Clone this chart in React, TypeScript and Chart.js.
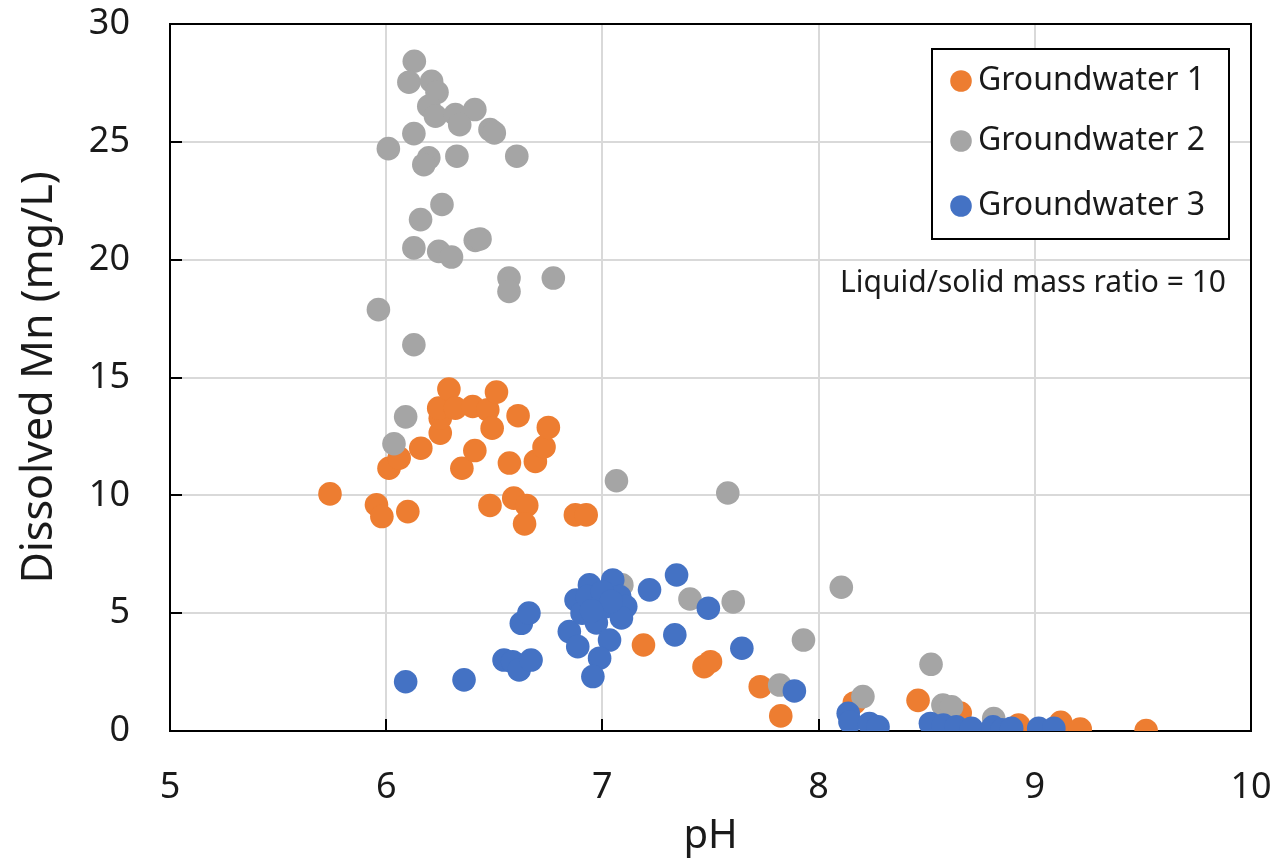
import React, { useEffect, useRef } from 'react';
import { Chart, registerables } from 'chart.js';

Chart.register(...registerables);

// ---------- data ----------
const gw1pH = [5.74, 5.955, 5.98, 6.10, 6.013, 6.06, 6.16, 6.25, 6.25, 6.243, 6.29, 6.32, 6.40, 6.47, 6.51, 6.49, 6.35, 6.41, 6.48, 6.57, 6.61, 6.59, 6.65, 6.64, 6.69, 6.73, 6.75, 6.875, 6.925, 7.19, 7.47, 7.50, 7.73, 7.825, 8.165, 8.46, 8.655, 8.925, 9.12, 9.21, 9.515];
const gw1Mn = [10.06, 9.6, 9.1, 9.31, 11.15, 11.58, 12.0, 12.64, 13.27, 13.7, 14.51, 13.7, 13.77, 13.63, 14.38, 12.85, 11.15, 11.9, 9.57, 11.37, 13.38, 9.88, 9.57, 8.79, 11.44, 12.05, 12.88, 9.17, 9.17, 3.65, 2.73, 2.94, 1.88, 0.64, 1.19, 1.3, 0.76, 0.25, 0.37, 0.08, 0.02];

const gw2pH = [6.13, 6.105, 6.21, 6.235, 6.197, 6.228, 6.32, 6.41, 6.34, 6.48, 6.50, 6.128, 6.01, 6.197, 6.174, 6.327, 6.604, 6.258, 6.159, 6.128, 6.243, 6.302, 6.412, 6.434, 6.568, 6.568, 6.773, 5.964, 6.128, 6.09, 6.036, 7.065, 7.58, 7.09, 7.405, 7.605, 8.105, 7.93, 7.82, 8.205, 8.52, 8.575, 8.615, 8.81];
const gw2Mn = [28.42, 27.53, 27.57, 27.1, 26.51, 26.09, 26.16, 26.37, 25.73, 25.52, 25.38, 25.35, 24.71, 24.32, 24.03, 24.39, 24.39, 22.34, 21.7, 20.5, 20.35, 20.11, 20.82, 20.88, 19.22, 18.65, 19.22, 17.88, 16.39, 13.33, 12.19, 10.62, 10.1, 6.2, 5.6, 5.48, 6.1, 3.86, 1.95, 1.46, 2.83, 1.1, 1.03, 0.53];

const gw3pH = [6.09, 6.36, 6.545, 6.585, 6.615, 6.67, 6.625, 6.66, 6.847, 6.886, 6.878, 6.94, 6.906, 6.977, 6.972, 7.017, 7.048, 7.08, 7.108, 7.088, 7.033, 6.987, 6.956, 6.93, 7.0, 7.04, 6.95, 7.218, 7.343, 7.335, 7.49, 7.645, 7.888, 8.137, 8.145, 8.235, 8.275, 8.517, 8.577, 8.637, 8.707, 8.807, 8.848, 8.893, 9.018, 9.088];
const gw3Mn = [2.09, 2.17, 3.01, 2.94, 2.59, 3.01, 4.57, 5.0, 4.22, 3.58, 5.56, 6.2, 5.0, 5.43, 4.59, 5.28, 6.41, 5.70, 5.28, 4.8, 3.86, 3.09, 2.31, 5.7, 5.9, 5.5, 5.1, 5.99, 6.62, 4.08, 5.21, 3.51, 1.7, 0.75, 0.39, 0.32, 0.18, 0.32, 0.25, 0.18, 0.11, 0.18, 0.05, 0.11, 0.11, 0.11];

const seriesNames = ['Groundwater 1', 'Groundwater 2', 'Groundwater 3'];
const seriesColors = ['#ED7D31', '#A5A5A5', '#4472C4'];
const xTicks = [5, 6, 7, 8, 9, 10];
const yTicks = [0, 5, 10, 15, 20, 25, 30];
const xTitle = 'pH';
const yTitle = 'Dissolved Mn (mg/L)';
const noteText = 'Liquid/solid mass ratio = 10';

const FONT = '"Noto Sans", "Open Sans", sans-serif';
const TEXT = '#1a1a1a';

const toPoints = (xs: number[], ys: number[]) => xs.map((x, i) => ({ x, y: ys[i] }));

const decorPlugin = {
  id: 'decor',
  beforeDatasetsDraw(chart: any) {
    const { ctx, chartArea: a, scales } = chart;
    ctx.save();
    ctx.strokeStyle = '#000';
    ctx.lineWidth = 2;
    ctx.strokeRect(a.left, a.top, a.right - a.left, a.bottom - a.top);
    ctx.beginPath();
    for (const v of xTicks.slice(1, -1)) {
      const px = Math.round(scales.x.getPixelForValue(v));
      ctx.moveTo(px, a.bottom);
      ctx.lineTo(px, a.bottom - 12);
    }
    for (const v of yTicks.slice(1, -1)) {
      const py = Math.round(scales.y.getPixelForValue(v));
      ctx.moveTo(a.left, py);
      ctx.lineTo(a.left + 12, py);
    }
    ctx.stroke();
    ctx.restore();
  },
  afterDraw(chart: any) {
    const { ctx, chartArea: a } = chart;
    ctx.save();
    const bx = a.right - 319;
    const by = a.top + 25;
    const bw = 297;
    const bh = 190;
    ctx.fillStyle = '#fff';
    ctx.fillRect(bx, by, bw, bh);
    ctx.strokeStyle = '#000';
    ctx.lineWidth = 2;
    ctx.strokeRect(bx, by, bw, bh);
    const rows = [32, 92, 157];
    ctx.font = `32px ${FONT}`;
    ctx.textBaseline = 'middle';
    ctx.textAlign = 'left';
    seriesNames.forEach((name, i) => {
      const cy = by + rows[i];
      ctx.fillStyle = seriesColors[i];
      ctx.beginPath();
      ctx.arc(bx + 29, cy, 10.8, 0, Math.PI * 2);
      ctx.fill();
      ctx.fillStyle = TEXT;
      ctx.fillText(name, bx + 46, cy);
    });
    ctx.font = `30px ${FONT}`;
    ctx.textAlign = 'right';
    ctx.fillStyle = TEXT;
    ctx.fillText(noteText, a.right - 25, a.top + 259);
    ctx.restore();
  },
};

export default function App() {
  const ref = useRef<HTMLCanvasElement | null>(null);

  useEffect(() => {
    if (!ref.current) return;
    const datasets = [
      { label: seriesNames[0], data: toPoints(gw1pH, gw1Mn), order: 3 },
      { label: seriesNames[1], data: toPoints(gw2pH, gw2Mn), order: 2 },
      { label: seriesNames[2], data: toPoints(gw3pH, gw3Mn), order: 1 },
    ].map((d, i) => ({
      ...d,
      backgroundColor: seriesColors[i],
      borderColor: seriesColors[i],
      pointRadius: 11.8,
      pointBorderWidth: 0,
      pointHoverRadius: 11.8,
    }));

    const chart = new Chart(ref.current, {
      type: 'scatter',
      data: { datasets },
      plugins: [decorPlugin],
      options: {
        animation: false,
        responsive: true,
        maintainAspectRatio: false,
        events: [],
        layout: { padding: { top: 24, right: 24, left: 0, bottom: 0 } },
        plugins: { legend: { display: false }, tooltip: { enabled: false } },
        scales: {
          x: {
            type: 'linear',
            min: 5,
            max: 10,
            afterBuildTicks: (s: any) => { s.ticks = xTicks.map((v) => ({ value: v })); },
            afterFit: (s: any) => { s.height = 128; s.paddingLeft = 0; s.paddingRight = 0; },
            grid: { color: '#d9d9d9', lineWidth: 2, drawTicks: false },
            border: { display: false },
            ticks: { font: { family: FONT, size: 36 }, color: TEXT, padding: 35, maxRotation: 0 },
            title: { display: true, text: xTitle, font: { family: FONT, size: 40, lineHeight: 1 }, color: TEXT, padding: { top: 0, bottom: 2 } },
          },
          y: {
            type: 'linear',
            min: 0,
            max: 30,
            afterBuildTicks: (s: any) => { s.ticks = yTicks.map((v) => ({ value: v })); },
            afterFit: (s: any) => { s.width = 170; s.paddingTop = 0; s.paddingBottom = 0; },
            grid: { color: '#d9d9d9', lineWidth: 2, drawTicks: false },
            border: { display: false },
            ticks: { font: { family: FONT, size: 36 }, color: TEXT, padding: 40 },
            title: { display: true, text: yTitle, font: { family: FONT, size: 43, lineHeight: 1 }, color: TEXT, padding: { top: 18, bottom: 0 } },
          },
        },
      },
    });
    return () => chart.destroy();
  }, []);

  return (
    <div style={{ position: 'absolute', left: 0, top: 0, width: 1275, height: 859, background: '#fff' }}>
      <canvas ref={ref} />
    </div>
  );
}
